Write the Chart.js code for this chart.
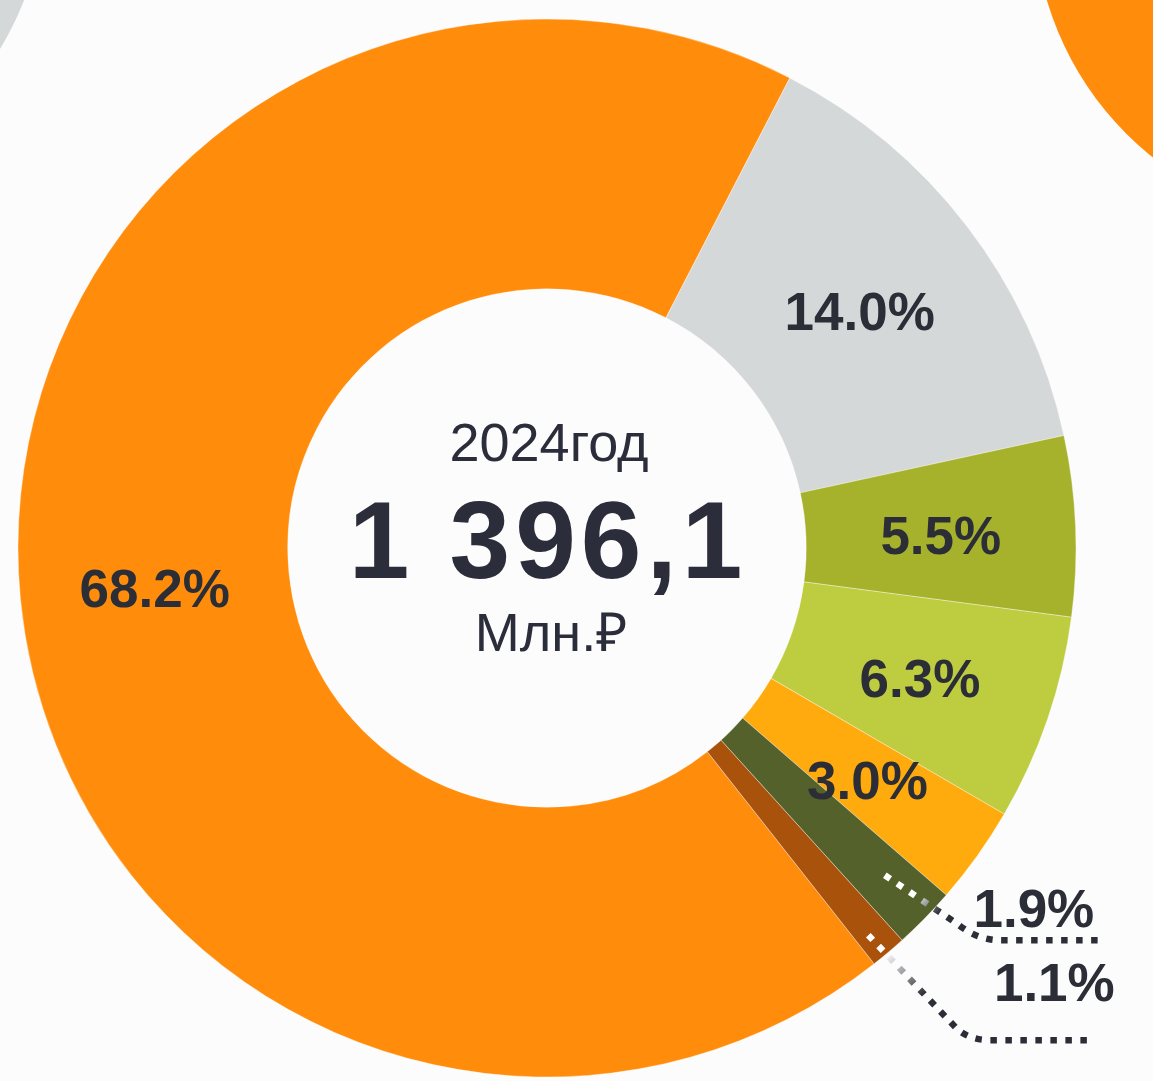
<!DOCTYPE html>
<html>
<head>
<meta charset="utf-8">
<script src="https://cdn.jsdelivr.net/npm/chart.js@4.4.1/dist/chart.umd.min.js"></script>
<style>
html,body{margin:0;padding:0;background:#fcfcfc;}
#wrap{position:relative;width:1153px;height:1081px;overflow:hidden;background:#fcfcfc;}
.deco{position:absolute;border-radius:50%;}
#decoGray{left:-607px;top:-447px;width:654px;height:654px;background:#d5d8d9;}
#decoOrange{left:1034px;top:-404px;width:630px;height:630px;background:#ff8c0b;}
#box{position:absolute;left:0;top:0;width:1153px;height:1081px;}
</style>
</head>
<body>
<div id="wrap">
  <div class="deco" id="decoGray"></div>
  <div class="deco" id="decoOrange"></div>
  <div id="box"><canvas id="c"></canvas></div>
</div>
<script>
// ---- data ----
const categories = ['68.2%', '14.0%', '5.5%', '6.3%', '3.0%', '1.9%', '1.1%'];
const shares = [68.2, 14.0, 5.5, 6.3, 3.0, 1.9, 1.1];
const sliceColors = ['#ff8c0b', '#d5d8d9', '#a7b22c', '#becc40', '#ffaa0d', '#55612a', '#a9520b'];
const yearLabel = '2024год';
const totalLabel = '1 396,1';
const unitLabel = 'Млн.₽';

// ---- styling / layout (not data) ----
const TEXT = '#2b2e36';
const CENTER_TEXT = '#2b2d3b';
const FONT = '"Liberation Sans", Arial, sans-serif';
// leader lines for small slices, offsets relative to the slice's outer-edge midpoint
const leaders = {
  5: { path: [[-40, -43], [33, 6], [53, 22], [75, 22], [174, 22]], text: [109, -10], fade: [505, 536] },
  6: { path: [[-20, -17], [67, 75], [80, 88], [102, 88], [200, 88]], text: [166, 30], fade: [528, 585] }
};

const labelPlugin = {
  id: 'sliceLabels',
  afterDatasetsDraw(chart) {
    const ctx = chart.ctx;
    const meta = chart.getDatasetMeta(0);
    ctx.save();
    ctx.font = 'bold 53px ' + FONT;
    ctx.fillStyle = TEXT;
    ctx.textAlign = 'center';
    ctx.textBaseline = 'alphabetic';
    meta.data.forEach((arc, i) => {
      const p = arc.getProps(['x', 'y', 'startAngle', 'endAngle', 'innerRadius', 'outerRadius'], true);
      const mid = (p.startAngle + p.endAngle) / 2;
      const txt = shares[i].toFixed(1) + '%';
      const lead = leaders[i];
      if (!lead) {
        const r = (p.innerRadius + p.outerRadius) / 2;
        ctx.fillText(txt, p.x + Math.cos(mid) * r, p.y + Math.sin(mid) * r + 22);
      } else {
        const ex = p.x + Math.cos(mid) * p.outerRadius;
        const ey = p.y + Math.sin(mid) * p.outerRadius;
        const R = 800;
        const grad = ctx.createRadialGradient(p.x, p.y, 0, p.x, p.y, R);
        grad.addColorStop(0, '#ffffff');
        grad.addColorStop(lead.fade[0] / R, '#ffffff');
        grad.addColorStop(lead.fade[1] / R, TEXT);
        grad.addColorStop(1, TEXT);
        ctx.save();
        ctx.strokeStyle = grad;
        ctx.lineWidth = 6.5;
        ctx.lineCap = 'butt';
        ctx.setLineDash([6.5, 8.5]);
        const pt = lead.path;
        ctx.beginPath();
        ctx.moveTo(ex + pt[0][0], ey + pt[0][1]);
        ctx.lineTo(ex + pt[1][0], ey + pt[1][1]);
        ctx.quadraticCurveTo(ex + pt[2][0], ey + pt[2][1], ex + pt[3][0], ey + pt[3][1]);
        ctx.lineTo(ex + pt[4][0], ey + pt[4][1]);
        ctx.stroke();
        ctx.restore();
        ctx.fillText(txt, ex + lead.text[0], ey + lead.text[1] + 19);
      }
    });
    ctx.restore();
  }
};

const centerPlugin = {
  id: 'centerText',
  afterDraw(chart) {
    const ctx = chart.ctx;
    const arc = chart.getDatasetMeta(0).data[0];
    const cx = arc.x, cy = arc.y;
    ctx.save();
    ctx.fillStyle = CENTER_TEXT;
    ctx.textAlign = 'center';
    ctx.textBaseline = 'alphabetic';
    ctx.font = '54px ' + FONT;
    ctx.fillText(yearLabel, cx + 2, cy - 87);
    ctx.font = 'bold 109px ' + FONT;
    ctx.letterSpacing = '5px';
    ctx.fillText(totalLabel, cx + 1, cy + 30);
    ctx.letterSpacing = '0px';
    ctx.font = '54px ' + FONT;
    ctx.fillText(unitLabel, cx + 4, cy + 103);
    ctx.restore();
  }
};

new Chart(document.getElementById('c'), {
  type: 'doughnut',
  data: {
    labels: categories,
    datasets: [{
      data: shares,
      backgroundColor: sliceColors,
      borderWidth: 1,
      borderColor: 'rgba(255,255,255,0.35)',
      hoverOffset: 0
    }]
  },
  options: {
    responsive: true,
    maintainAspectRatio: false,
    animation: false,
    rotation: 141.8,
    radius: 529,
    cutout: 259,
    layout: { padding: { left: 18, right: 77, top: 19, bottom: 4 } },
    plugins: { legend: { display: false }, tooltip: { enabled: false } },
    events: []
  },
  plugins: [labelPlugin, centerPlugin]
});
</script>
</body>
</html>
